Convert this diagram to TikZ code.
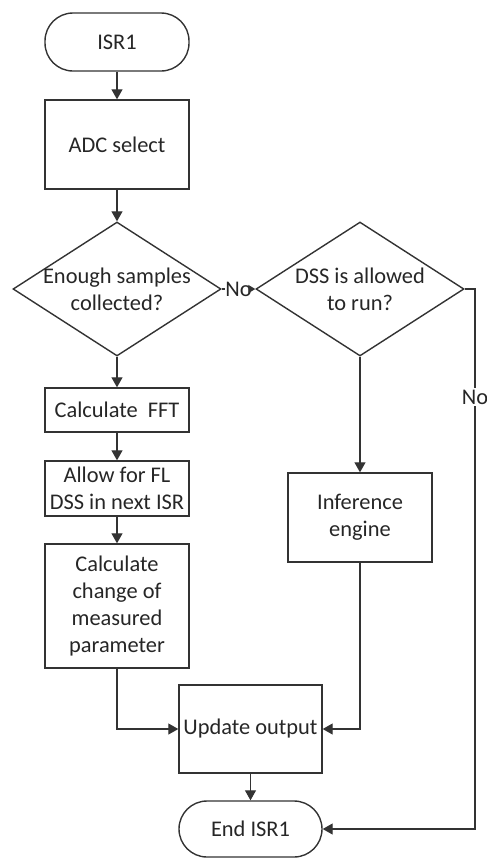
\documentclass[tikz,border=0pt]{standalone}
\usepackage{fontspec}
\setmainfont{Carlito}
\usetikzlibrary{shapes.geometric,arrows.meta}
\tikzset{every node/.style={font=\fontsize{11.2}{13.4}\selectfont, align=center, text=black!85},
  block/.style={draw=black!80, line width=.7pt, rectangle, minimum width=72pt, inner sep=1pt},
  term/.style={block, rounded corners=14pt, minimum height=29pt},
  decision/.style={draw=black!80, line width=.7pt, diamond, minimum width=104pt, minimum height=67pt, inner sep=0pt},
  flow/.style={draw=black!80, line width=.6pt, -{Triangle[length=5pt,width=5.5pt]}},
  link/.style={draw=black!80, line width=.6pt}}

\begin{document}
\begin{tikzpicture}[x=.5pt,y=-.5pt]
\useasboundingbox (0,0) rectangle (487,858);
\node[term] (isr) at (117,42) {ISR1};
\node[block, minimum height=44.5pt] (adc) at (117,144.5) {ADC select};
\node[decision, label={center:Enough samples\\collected?}] (enough) at (117,289) {};
\node[decision, label={center:DSS is allowed\\to run?}] (allowed) at (360,289) {};
\node[block, minimum height=22pt] (fft) at (117,410) {Calculate\ \ FFT};
\node[block, minimum height=27.5pt] (flag) at (117,488.5) {Allow for FL\\DSS in next ISR};
\node[block, minimum height=62pt] (change) at (117,606) {Calculate\\change of\\measured\\parameter};
\node[block, minimum height=44.5pt] (infer) at (360,517.5) {Inference\\engine};
\node[block, minimum height=44pt, minimum width=71.5pt] (update) at (250.5,729) {Update output};
\node[term, minimum height=28pt, minimum width=71.5pt] (endisr) at (250.5,829) {End ISR1};
\coordinate (rturn) at (475,289);
%\coordinate (rturn) at (480,289);
\path (enough) -- node[inner sep=0pt] (no1) {No} (allowed);

\draw[flow] (isr) -- (adc);
\draw[flow] (adc) -- (enough);
\draw[link] (enough) -- (no1);
\draw[link, -{Triangle[length=3.5pt,width=4pt]}] (no1) -- (allowed);
\draw[flow] (enough) -- (fft);
\draw[flow] (fft) -- (flag);
\draw[flow] (flag) -- (change);
\draw[flow] (allowed) -- (infer);
\draw[flow] (change) |- (update);
\draw[flow] (infer) |- (update);
\draw[flow] (allowed.east) -- (rturn) |- node[pos=.1, fill=white, inner sep=1pt] {No} (endisr);
\draw[flow] (update) -- (endisr);
\end{tikzpicture}
\end{document}
